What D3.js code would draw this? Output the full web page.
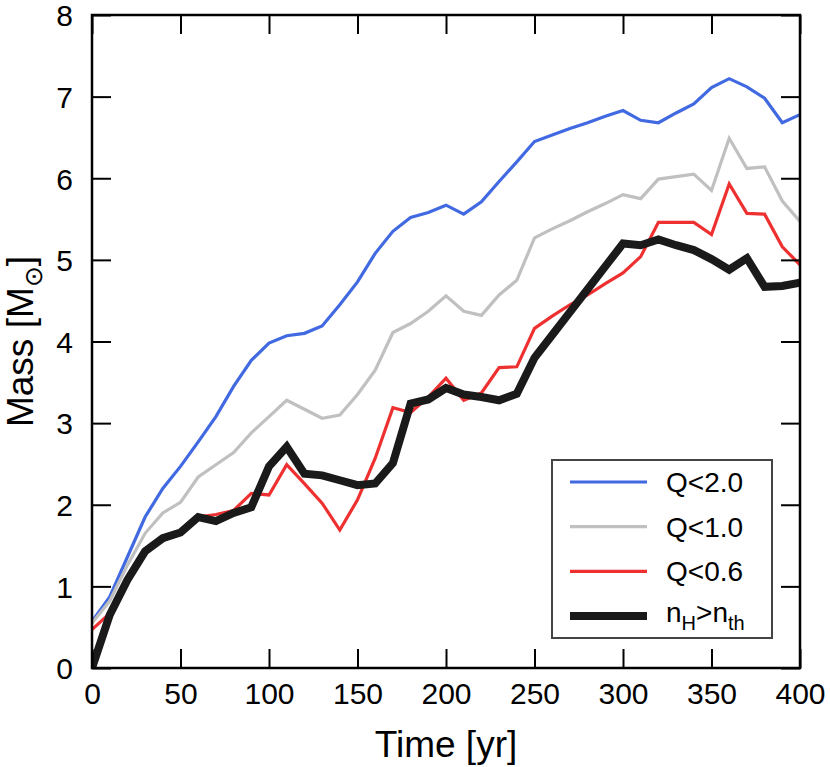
<!DOCTYPE html>
<html>
<head>
<meta charset="utf-8">
<script src="https://cdn.jsdelivr.net/npm/d3@7"></script>
<style>
  body { margin: 0; background: #fff; }
  svg { display: block; font-family: "Liberation Sans", Arial, sans-serif; }
</style>
</head>
<body>
<svg id="chart"></svg>
<script>
// Время (лет)
const times = [0, 10, 20, 30, 40, 50, 60, 70, 80, 90, 100, 110, 120, 130, 140, 150, 160, 170, 180, 190, 200,
               210, 220, 230, 240, 250, 260, 270, 280, 290, 300, 310, 320, 330, 340, 350, 360, 370, 380, 390, 400];

// Масса для каждого критерия
const massQ20 = [0.57, 0.87, 1.36, 1.85, 2.20, 2.47, 2.77, 3.08, 3.45, 3.77, 3.98, 4.07, 4.10, 4.19, 4.45, 4.73, 5.08, 5.35, 5.52, 5.58, 5.67,
                 5.56, 5.71, 5.96, 6.20, 6.45, 6.53, 6.61, 6.68, 6.76, 6.83, 6.71, 6.68, 6.80, 6.91, 7.11, 7.22, 7.12, 6.98, 6.68, 6.78];
const massQ10 = [0.55, 0.82, 1.26, 1.65, 1.90, 2.03, 2.34, 2.49, 2.64, 2.88, 3.08, 3.28, 3.17, 3.06, 3.10, 3.35, 3.65, 4.11, 4.22, 4.37, 4.56,
                 4.37, 4.32, 4.57, 4.75, 5.27, 5.38, 5.48, 5.59, 5.69, 5.80, 5.75, 5.99, 6.02, 6.05, 5.85, 6.49, 6.12, 6.14, 5.72, 5.47];
const massQ06 = [0.47, 0.67, 1.10, 1.45, 1.60, 1.67, 1.85, 1.88, 1.93, 2.14, 2.12, 2.49, 2.26, 2.02, 1.69, 2.06, 2.57, 3.19, 3.13, 3.32, 3.55,
                 3.28, 3.37, 3.68, 3.69, 4.16, 4.31, 4.45, 4.57, 4.71, 4.84, 5.04, 5.46, 5.46, 5.46, 5.31, 5.93, 5.57, 5.56, 5.16, 4.94];
const massNH  = [0.00, 0.65, 1.08, 1.43, 1.59, 1.66, 1.85, 1.80, 1.90, 1.97, 2.47, 2.71, 2.38, 2.36, 2.30, 2.24, 2.26, 2.51, 3.24, 3.29, 3.43,
                 3.35, 3.32, 3.28, 3.36, 3.80, 4.08, 4.36, 4.64, 4.92, 5.20, 5.18, 5.25, 5.18, 5.12, 5.01, 4.88, 5.02, 4.67, 4.68, 4.72];

// Деления осей
const xTicks = [0, 50, 100, 150, 200, 250, 300, 350, 400];
const yTicks = [0, 1, 2, 3, 4, 5, 6, 7, 8];

// Серии
const series = [
  { name: 'Q<2.0', values: massQ20, color: '#4169e1', width: 3.2 },
  { name: 'Q<1.0', values: massQ10, color: '#c0c0c0', width: 3.2 },
  { name: 'Q<0.6', values: massQ06, color: '#ee3030', width: 3.2 },
  { name: 'nH>nth', values: massNH, color: '#1a1a1a', width: 8 }
];

const width = 830;
const height = 767;
const margin = { left: 92, right: 30, top: 15, bottom: 99 };

const svg = d3.select('#chart').attr('width', width).attr('height', height);

const x = d3.scaleLinear().domain([0, 400]).range([margin.left, width - margin.right]);
const y = d3.scaleLinear().domain([0, 8]).range([height - margin.bottom, margin.top]);

// Обрезка по области графика
svg.append('clipPath').attr('id', 'clip')
  .append('rect')
    .attr('x', x(0)).attr('y', y(8))
    .attr('width', x(400) - x(0)).attr('height', y(0) - y(8));

const line = d3.line().x((d, i) => x(times[i])).y(d => y(d));

svg.append('g').attr('clip-path', 'url(#clip)')
  .selectAll('path').data(series).enter().append('path')
    .attr('fill', 'none')
    .attr('stroke', d => d.color)
    .attr('stroke-width', d => d.width)
    .attr('stroke-linejoin', 'miter')
    .attr('d', d => line(d.values));

// Оси с делениями внутрь
const tickLen = 19;
const axisStyle = g => {
  g.select('.domain').remove();
  g.selectAll('.tick line').attr('stroke', '#000').attr('stroke-width', 2);
  g.selectAll('.tick text').attr('fill', '#000').style('font-size', '30px');
};

svg.append('g').attr('transform', `translate(0, ${y(0)})`)
  .call(d3.axisBottom(x).tickValues(xTicks).tickSize(-tickLen).tickPadding(15).tickFormat(d3.format('d')))
  .call(axisStyle)
  .call(g => g.selectAll('.tick text').attr('dy', '0.71em'));

svg.append('g').attr('transform', `translate(0, ${y(8)})`)
  .call(d3.axisTop(x).tickValues(xTicks).tickSize(-tickLen).tickFormat(''))
  .call(axisStyle);

svg.append('g').attr('transform', `translate(${x(0)}, 0)`)
  .call(d3.axisLeft(y).tickValues(yTicks).tickSize(-tickLen).tickPadding(19).tickFormat(d3.format('d')))
  .call(axisStyle)
  .call(g => g.selectAll('.tick text').attr('dy', '0.36em'));

svg.append('g').attr('transform', `translate(${x(400)}, 0)`)
  .call(d3.axisRight(y).tickValues(yTicks).tickSize(-tickLen).tickFormat(''))
  .call(axisStyle);

// Рамка
svg.append('rect')
  .attr('x', x(0)).attr('y', y(8))
  .attr('width', x(400) - x(0)).attr('height', y(0) - y(8))
  .attr('fill', 'none').attr('stroke', '#000').attr('stroke-width', 2.5);

// Подписи осей
svg.append('text')
  .attr('x', (x(0) + x(400)) / 2).attr('y', 757)
  .attr('text-anchor', 'middle')
  .style('font-size', '37px')
  .text('Time [yr]');

const yTitle = svg.append('text')
  .attr('transform', `translate(33, ${(y(0) + y(8)) / 2}) rotate(-90)`)
  .attr('text-anchor', 'middle')
  .style('font-size', '37px');
yTitle.append('tspan').text('Mass [M');
yTitle.append('tspan').attr('dy', 9).style('font-size', '25px').text('\u2299');
yTitle.append('tspan').attr('dy', -9).text(']');

// Легенда
const legend = svg.append('g').attr('transform', 'translate(552, 460)');
legend.append('rect')
  .attr('width', 220).attr('height', 178)
  .attr('fill', '#fff').attr('stroke', '#444').attr('stroke-width', 2);

const items = legend.selectAll('.item').data(series).enter().append('g')
  .attr('class', 'item')
  .attr('transform', (d, i) => `translate(0, ${22 + i * 44.7})`);

items.append('line')
  .attr('x1', 18).attr('x2', 95)
  .attr('stroke', d => d.color)
  .attr('stroke-width', d => d.width);

items.filter((d, i) => i < 3).append('text')
  .attr('x', 114).attr('dy', '0.36em')
  .style('font-size', '28px')
  .text(d => d.name);

const nh = items.filter((d, i) => i === 3).append('text')
  .attr('x', 114).attr('dy', '0.2em')
  .style('font-size', '28px');
nh.append('tspan').text('n');
nh.append('tspan').attr('dy', 8).style('font-size', '20px').text('H');
nh.append('tspan').attr('dy', -8).text('>n');
nh.append('tspan').attr('dy', 8).style('font-size', '20px').text('th');
</script>
</body>
</html>
